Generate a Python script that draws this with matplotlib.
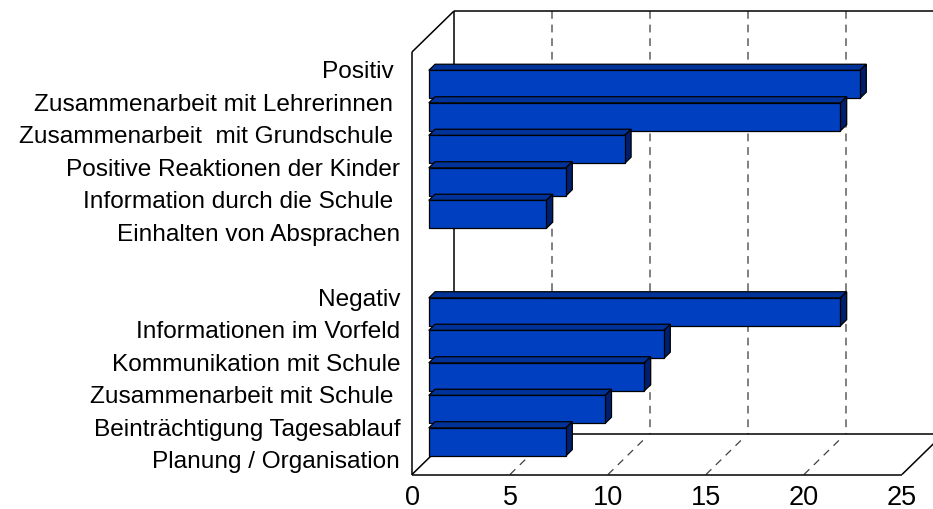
import matplotlib
matplotlib.use("Agg")
from matplotlib import pyplot as plt
from matplotlib.patches import Polygon

plt.rcParams['font.family'] = ['Liberation Sans', 'DejaVu Sans']

# data
pos_header = "Positiv "
pos_labels = ["Zusammenarbeit mit Lehrerinnen ", "Zusammenarbeit  mit Grundschule ",
              "Positive Reaktionen der Kinder", "Information durch die Schule ",
              "Einhalten von Absprachen"]
pos_values = [22, 21, 10, 7, 6]
neg_header = "Negativ"
neg_labels = ["Informationen im Vorfeld", "Kommunikation mit Schule",
              "Zusammenarbeit mit Schule ", "Beinträchtigung Tagesablauf",
              "Planung / Organisation"]
neg_values = [21, 12, 11, 9, 7]
x_ticks = [0, 5, 10, 15, 20, 25]

labels = [pos_header] + pos_labels + [""] + [neg_header] + neg_labels
values = [None] + pos_values + [None] + [None] + neg_values
n = len(labels)

fig = plt.figure(figsize=(9.33, 5.10), dpi=100)
ax = fig.add_axes([0, 0, 1, 1])
ax.axis('off')

px_per_unit = 19.6
px_per_slot = 32.5
ax.set_xlim(-412 / px_per_unit, (933 - 412) / px_per_unit)
ax.set_ylim((510 - 53) / px_per_slot - 0.5, -53 / px_per_slot - 0.5)

DX = 42 / px_per_unit   # depth shift in value units
DY = 41 / px_per_slot   # depth shift in slot units
top, bottom = -0.5, n - 0.5
xmax = x_ticks[-1]


def proj(x, y, d):
    return (x + d * DX, y - d * DY)


# walls and floor
box = dict(color='black', lw=1.1, solid_capstyle='butt', zorder=2)
for a, b in [((0, top, 0), (0, bottom, 0)),
             ((0, top, 0), (0, top, 1)),
             ((0, top, 1), (0, bottom, 1)),
             ((0, top, 1), (xmax + 2, top, 1)),
             ((0, bottom, 1), (xmax + 2, bottom, 1)),
             ((0, bottom, 0), (xmax, bottom, 0)),
             ((0, bottom, 0), (0, bottom, 1)),
             ((xmax, bottom, 0), (xmax, bottom, 1))]:
    p, q = proj(*a), proj(*b)
    ax.plot([p[0], q[0]], [p[1], q[1]], **box)

for v in x_ticks[1:-1]:
    p, q = proj(v, top, 1), proj(v, bottom, 1)
    ax.plot([p[0], q[0]], [p[1], q[1]], color='#808080', lw=1.4,
            dashes=(4, 3), zorder=1)
    p, q = proj(v, bottom, 0), proj(v, bottom, 0.92)
    ax.plot([p[0], q[0]], [p[1], q[1]], color='#404040', lw=0.9,
            dashes=(6, 5), zorder=1)

# bars
d0, d1 = 0.4, 0.55
h = 0.86
front_c, top_c, side_c = '#0040c0', '#003399', '#001f6e'
for i, v in enumerate(values):
    if v is None:
        continue
    y0, y1 = i - h / 2, i + h / 2
    faces = [
        ([(0, y0, d0), (v, y0, d0), (v, y0, d1), (0, y0, d1)], top_c),
        ([(v, y0, d0), (v, y1, d0), (v, y1, d1), (v, y0, d1)], side_c),
        ([(0, y0, d0), (v, y0, d0), (v, y1, d0), (0, y1, d0)], front_c),
    ]
    for pts, c in faces:
        ax.add_patch(Polygon([proj(*p) for p in pts], closed=True,
                             facecolor=c, edgecolor='black', lw=0.9,
                             zorder=3 + i * 0.01))

# category labels
for i, lab in enumerate(labels):
    if lab:
        ax.text(-0.6, i + 0.1, lab, ha='right', va='center', fontsize=17.6)

# value axis labels
for v in x_ticks:
    ax.text(v, bottom + 0.68, str(v), ha='center', va='center', fontsize=19.5)

fig.savefig('out.png', dpi=100)
